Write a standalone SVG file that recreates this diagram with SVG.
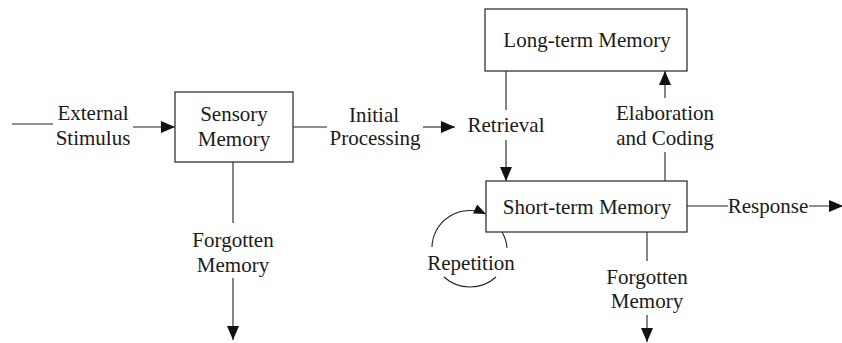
<svg xmlns="http://www.w3.org/2000/svg" width="842" height="343" viewBox="0 0 842 343">
  <defs>
    <style>
      .box { fill: #ffffff; stroke: #333333; stroke-width: 1.3; }
      .edge { fill: none; stroke: #222222; stroke-width: 1.1; }
      .lbl { font-size: 21px; fill: #1a1a1a; text-anchor: middle; }
    </style>
    <marker id="arrow" markerUnits="userSpaceOnUse" markerWidth="14" markerHeight="12" refX="14" refY="6" orient="auto" overflow="visible">
      <path d="M0,0 L14,6 L0,12 Z" fill="#111111"/>
    </marker>
    <marker id="arrowSmall" markerUnits="userSpaceOnUse" markerWidth="12" markerHeight="10" refX="12" refY="5" orient="auto" overflow="visible">
      <path d="M0,0 L12,5 L0,10 Z" fill="#111111"/>
    </marker>
  </defs>

  <rect width="842" height="343" fill="#ffffff"/>

  <g font-family="'Liberation Serif', 'DejaVu Serif', serif">
  <!-- connectors and their labels -->
  <g id="connectors">
    <!-- external stimulus into sensory memory -->
    <line class="edge" x1="12" y1="124" x2="53" y2="124"/>
    <line class="edge" x1="133" y1="127" x2="175" y2="127" marker-end="url(#arrow)"/>
    <text class="lbl" x="93" y="120">External</text>
    <text class="lbl" x="93" y="145">Stimulus</text>

    <!-- initial processing -->
    <line class="edge" x1="293" y1="127" x2="327" y2="127"/>
    <line class="edge" x1="423" y1="127" x2="455" y2="127" marker-end="url(#arrow)"/>
    <text class="lbl" x="374" y="122">Initial</text>
    <text class="lbl" x="375" y="145">Processing</text>

    <!-- sensory memory decay -->
    <line class="edge" x1="233" y1="162" x2="233" y2="223"/>
    <line class="edge" x1="233" y1="278" x2="233" y2="340" marker-end="url(#arrow)"/>
    <text class="lbl" x="233" y="247">Forgotten</text>
    <text class="lbl" x="233" y="272">Memory</text>

    <!-- retrieval from long-term store -->
    <line class="edge" x1="506" y1="71" x2="506" y2="110"/>
    <line class="edge" x1="506" y1="140" x2="506" y2="181" marker-end="url(#arrow)"/>
    <text class="lbl" x="506" y="132">Retrieval</text>

    <!-- elaboration and coding into long-term store -->
    <line class="edge" x1="665" y1="181" x2="665" y2="152"/>
    <line class="edge" x1="665" y1="98" x2="665" y2="71" marker-end="url(#arrow)"/>
    <text class="lbl" x="665" y="120">Elaboration</text>
    <text class="lbl" x="665" y="145">and Coding</text>

    <!-- response -->
    <line class="edge" x1="687" y1="206" x2="728" y2="206"/>
    <line class="edge" x1="809" y1="206" x2="843" y2="206" marker-end="url(#arrow)"/>
    <text class="lbl" x="768" y="213">Response</text>

    <!-- short-term memory decay -->
    <line class="edge" x1="647" y1="232" x2="647" y2="261"/>
    <line class="edge" x1="647" y1="315" x2="647" y2="342" marker-end="url(#arrow)"/>
    <text class="lbl" x="647" y="284">Forgotten</text>
    <text class="lbl" x="647" y="308">Memory</text>

    <!-- repetition loop -->
    <path class="edge" d="M432,247 A38,37 0 0 1 486,214" marker-end="url(#arrowSmall)"/>
    <path class="edge" d="M502,232 A38,37 0 0 1 507,248"/>
    <path class="edge" d="M444,277 A38,37 0 0 0 496,277"/>
    <text class="lbl" x="471" y="270">Repetition</text>
  </g>

  <g id="sensory-memory">
    <rect class="box" x="175" y="92" width="118" height="70"/>
    <text class="lbl" x="234" y="121">Sensory</text>
    <text class="lbl" x="234" y="146">Memory</text>
  </g>

  <g id="long-term-memory">
    <rect class="box" x="485" y="9" width="202" height="62"/>
    <text class="lbl" x="587" y="47">Long-term Memory</text>
  </g>

  <g id="short-term-memory">
    <rect class="box" x="486" y="181" width="201" height="51"/>
    <text class="lbl" x="587" y="214">Short-term Memory</text>
  </g>
  </g>
</svg>
